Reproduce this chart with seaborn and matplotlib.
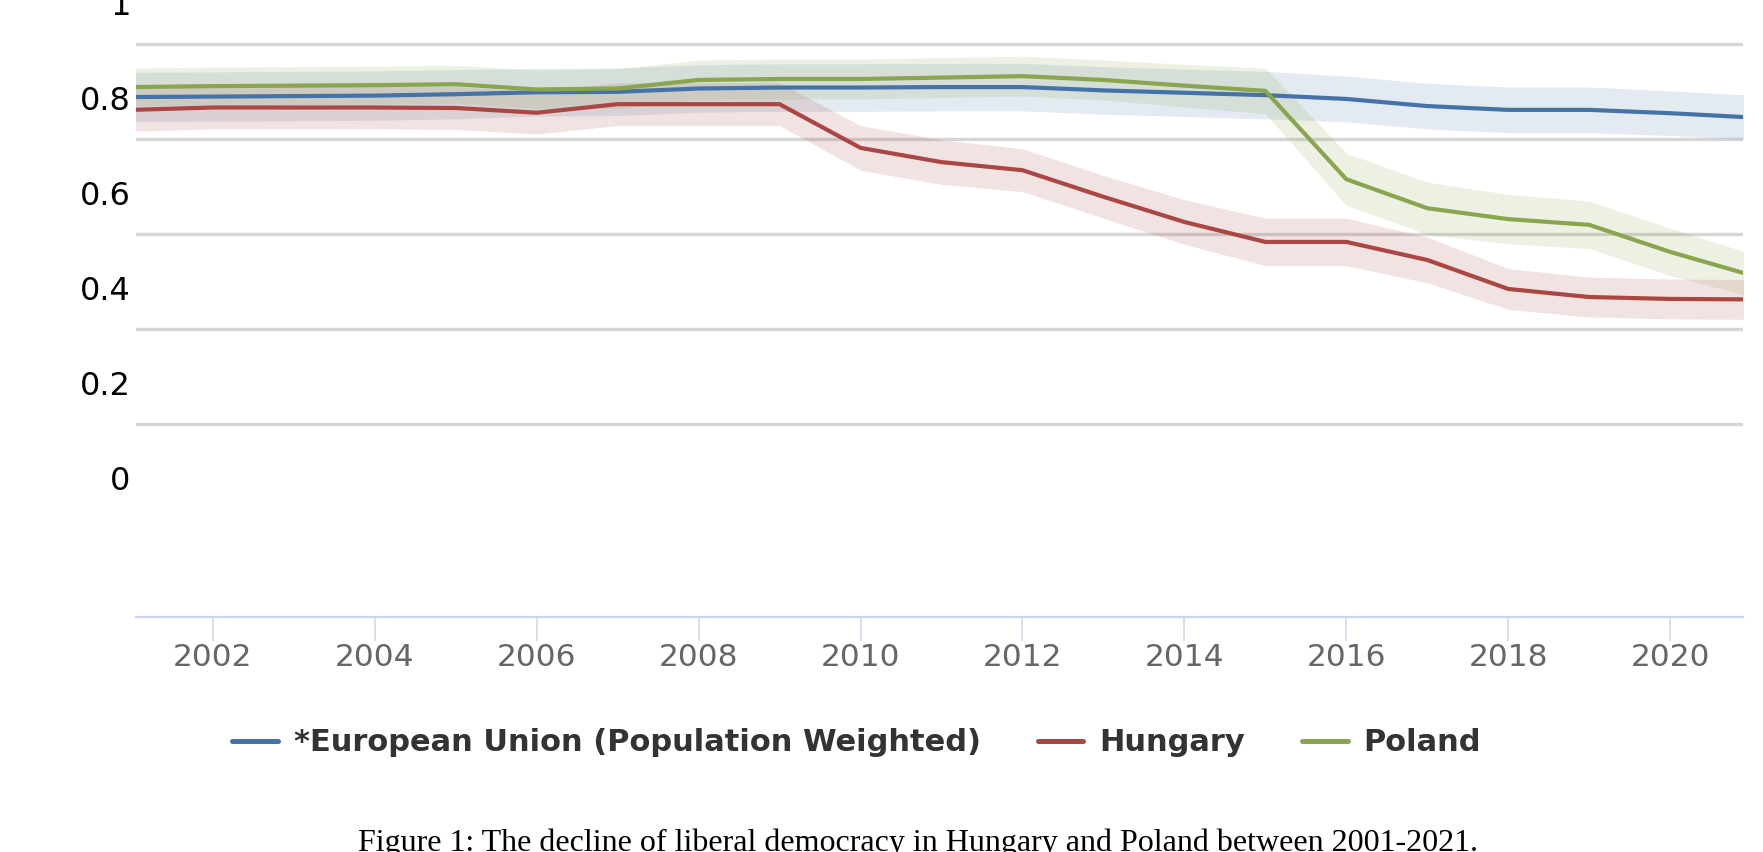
import pandas as pd
import numpy as np
import matplotlib
matplotlib.use("Agg")
import matplotlib.pyplot as plt
import seaborn as sns
from matplotlib.lines import Line2D

sns.set_theme(style="white")
plt.rcParams['font.family'] = ['DejaVu Sans']

# ====== dados ====== #
years = list(range(2001, 2022))
eu = [0.802, 0.803, 0.804, 0.805, 0.808, 0.812, 0.813, 0.820, 0.822, 0.822, 0.823,
      0.823, 0.816, 0.811, 0.806, 0.798, 0.783, 0.775, 0.775, 0.768, 0.759]
hungary = [0.775, 0.780, 0.780, 0.780, 0.779, 0.769, 0.787, 0.787, 0.787, 0.695, 0.665,
           0.648, 0.592, 0.539, 0.497, 0.497, 0.459, 0.398, 0.381, 0.377, 0.376]
poland = [0.823, 0.825, 0.826, 0.827, 0.829, 0.818, 0.820, 0.838, 0.840, 0.840, 0.843,
          0.846, 0.838, 0.826, 0.815, 0.629, 0.568, 0.545, 0.533, 0.476, 0.427]

# meia-largura das faixas de incerteza
eu_band = [0.052, 0.052, 0.052, 0.052, 0.052, 0.050, 0.050, 0.050, 0.050, 0.050, 0.050,
           0.050, 0.050, 0.050, 0.050, 0.048, 0.048, 0.048, 0.048, 0.047, 0.047]
hungary_band = [0.045, 0.045, 0.045, 0.045, 0.045, 0.045, 0.045, 0.045, 0.045, 0.047, 0.047,
                0.045, 0.045, 0.047, 0.050, 0.050, 0.048, 0.043, 0.042, 0.042, 0.042]
poland_band = [0.040, 0.040, 0.040, 0.040, 0.040, 0.040, 0.042, 0.042, 0.042, 0.042, 0.042,
               0.042, 0.042, 0.045, 0.048, 0.055, 0.055, 0.052, 0.050, 0.050, 0.045]

series_names = ["*European Union (Population Weighted)", "Hungary", "Poland"]
colors = ["#4572A7", "#AA4643", "#89A54E"]
ytick_vals = [0, 0.2, 0.4, 0.6, 0.8, 1]
ytick_labels = ["0", "0.2", "0.4", "0.6", "0.8", "1"]
xtick_vals = list(range(2002, 2021, 2))
caption = "Figure 1: The decline of liberal democracy in Hungary and Poland between 2001-2021."

df = pd.DataFrame({
    "year": years * 3,
    "value": eu + hungary + poland,
    "series": [series_names[0]] * len(years) + [series_names[1]] * len(years) + [series_names[2]] * len(years),
})

# ====== figura ====== #
W, H = 1763, 852
fig = plt.figure(figsize=(W / 100, H / 100), dpi=100)
ax = fig.add_axes([136 / W, 1 - 617 / H, (1743 - 136) / W, 617 / H])

# linhas de grade (deslocadas em relação aos rótulos, como no original)
for g in [0.114, 0.314, 0.514, 0.714, 0.914]:
    ax.axhline(g, color="#d6d6d6", lw=2.4, zorder=0)

for vals, band, c in zip([eu, hungary, poland], [eu_band, hungary_band, poland_band], colors):
    v = np.array(vals)
    b = np.array(band)
    ax.fill_between(years, v - b, v + b, color=c, alpha=0.15, lw=0, zorder=1)

sns.lineplot(data=df, x="year", y="value", hue="series", palette=colors,
             linewidth=3.0, ax=ax, legend=False, zorder=3)

ax.set_xlim(2001.05, 2020.9)
ax.set_ylim(-0.2926, 1.0063)
ax.set_xlabel("")
ax.set_ylabel("")

ax.set_yticks(ytick_vals)
ax.set_yticklabels(ytick_labels)
ax.set_xticks(xtick_vals)
ax.set_xticklabels([str(y) for y in xtick_vals])

ax.tick_params(axis="y", length=0, pad=4, labelsize=23, labelcolor="black")
ax.tick_params(axis="x", bottom=True, length=17, width=1.1, color="#ccd6eb",
               direction="out", pad=2, labelsize=22.5, labelcolor="#666666")

for side in ["top", "right", "left"]:
    ax.spines[side].set_visible(False)
ax.spines["bottom"].set_color("#ccd6eb")
ax.spines["bottom"].set_linewidth(1.6)

# ====== legenda ====== #
handles = [Line2D([0], [0], color=c, lw=3.6) for c in colors]
fig.legend(handles, series_names, loc="center", bbox_to_anchor=(0.486, 0.128), ncol=3,
           frameon=False, prop=dict(family="DejaVu Sans", weight="bold", size=22),
           handlelength=1.48, handletextpad=0.53, columnspacing=1.87, labelcolor="#333333",
           borderpad=0)

# ====== legenda da figura ====== #
fig.text(918 / W, 0.0015, caption, ha="center", va="baseline",
         family="Liberation Serif", size=23, color="black")

fig.savefig("out.png", dpi=100)
